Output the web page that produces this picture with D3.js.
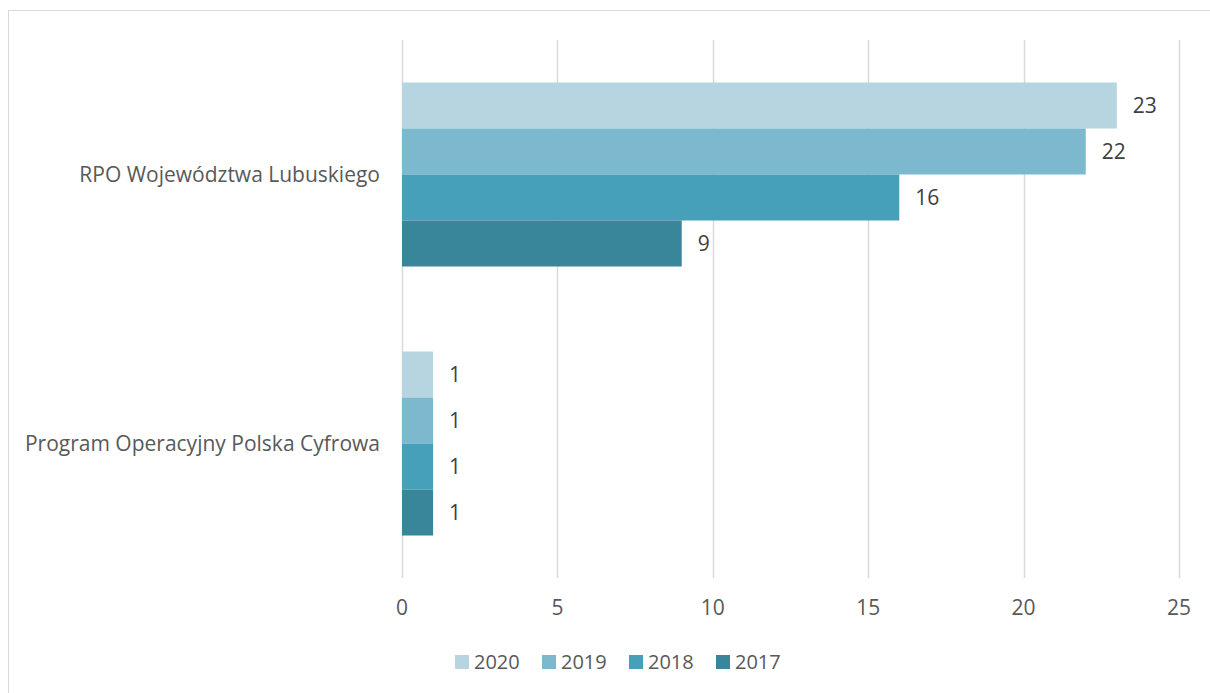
<!doctype html>
<meta charset="utf-8">
<title>Programy</title>
<script src="https://cdn.jsdelivr.net/npm/d3@7/dist/d3.min.js"></script>
<style>
    body { margin: 0; background: #fff; }
    text { font-family: "Open Sans", sans-serif; }
</style>
<body>
<div id="chart"></div>
<script>

    var categories = ["RPO Województwa Lubuskiego", "Program Operacyjny Polska Cyfrowa"]
        , years = ["2020", "2019", "2018", "2017"]
        , values2020 = [23, 1]
        , values2019 = [22, 1]
        , values2018 = [16, 1]
        , values2017 = [9, 1]
        , xTicks = [0, 5, 10, 15, 20, 25];

    var colors = ["#b7d5e0", "#7db9ce", "#47a0ba", "#398599"];
    var series = [values2020, values2019, values2018, values2017];

    var width = 1210, height = 693
        , plotLeft = 402, plotRight = 1179, plotTop = 40, plotBottom = 578
        , fontSize = '21px';

    var svg = d3.select('#chart').append('svg')
        .attr('width', width)
        .attr('height', height);

    // chart frame
    svg.append('rect')
        .attr('x', 8.5).attr('y', 10.5)
        .attr('width', 1210).attr('height', 700)
        .attr('fill', 'none')
        .attr('stroke', '#d9d9d9')
        .attr('stroke-width', 1);

    var x = d3.scaleLinear().domain([0, 25]).range([plotLeft, plotRight]);
    var y = d3.scaleBand().domain(categories).range([plotTop, plotBottom]).paddingInner(0).paddingOuter(0);
    var inner = d3.scaleBand().domain(years).range([0, 184]);

    // gridlines
    svg.append('g').selectAll('line')
        .data(xTicks)
        .enter().append('line')
        .attr('x1', function(d) { return Math.round(x(d)) + 0.5 })
        .attr('x2', function(d) { return Math.round(x(d)) + 0.5 })
        .attr('y1', plotTop)
        .attr('y2', plotBottom)
        .attr('stroke', '#d9d9d9')
        .attr('stroke-width', 1.5);

    // tick labels
    svg.append('g').selectAll('text')
        .data(xTicks)
        .enter().append('text')
        .attr('x', function(d) { return x(d) })
        .attr('y', 615)
        .attr('text-anchor', 'middle')
        .attr('font-size', fontSize)
        .attr('fill', '#595959')
        .text(function(d) { return d });

    // category labels
    svg.append('g').selectAll('text')
        .data(categories)
        .enter().append('text')
        .attr('x', 380)
        .attr('y', function(d) { return y(d) + y.bandwidth() / 2 })
        .attr('dy', '0.35em')
        .attr('text-anchor', 'end')
        .attr('font-size', fontSize)
        .attr('fill', '#595959')
        .text(function(d) { return d });

    // bars
    series.forEach(function(vals, s) {
        var g = svg.append('g');
        var off = (y.bandwidth() - 184) / 2;
        g.selectAll('rect')
            .data(vals)
            .enter().append('rect')
            .attr('x', x(0))
            .attr('y', function(d, i) { return y(categories[i]) + off + inner(years[s]) })
            .attr('width', function(d) { return x(d) - x(0) })
            .attr('height', inner.bandwidth())
            .attr('fill', colors[s]);

        g.selectAll('text')
            .data(vals)
            .enter().append('text')
            .attr('x', function(d) { return x(d) + 16 })
            .attr('y', function(d, i) { return y(categories[i]) + off + inner(years[s]) + inner.bandwidth() / 2 })
            .attr('dy', '0.35em')
            .attr('font-size', fontSize)
            .attr('fill', '#404040')
            .text(function(d) { return d });
    });

    // legend
    var legend = svg.append('g').selectAll('g')
        .data(years)
        .enter().append('g')
        .attr('transform', function(d, i) { return 'translate(' + (455 + i * 87) + ',655)' });

    legend.append('rect')
        .attr('width', 14).attr('height', 14)
        .attr('fill', function(d, i) { return colors[i] });

    legend.append('text')
        .attr('x', 19)
        .attr('y', 14)
        .attr('font-size', '20px')
        .attr('fill', '#595959')
        .text(function(d) { return d });

</script>
</body>
